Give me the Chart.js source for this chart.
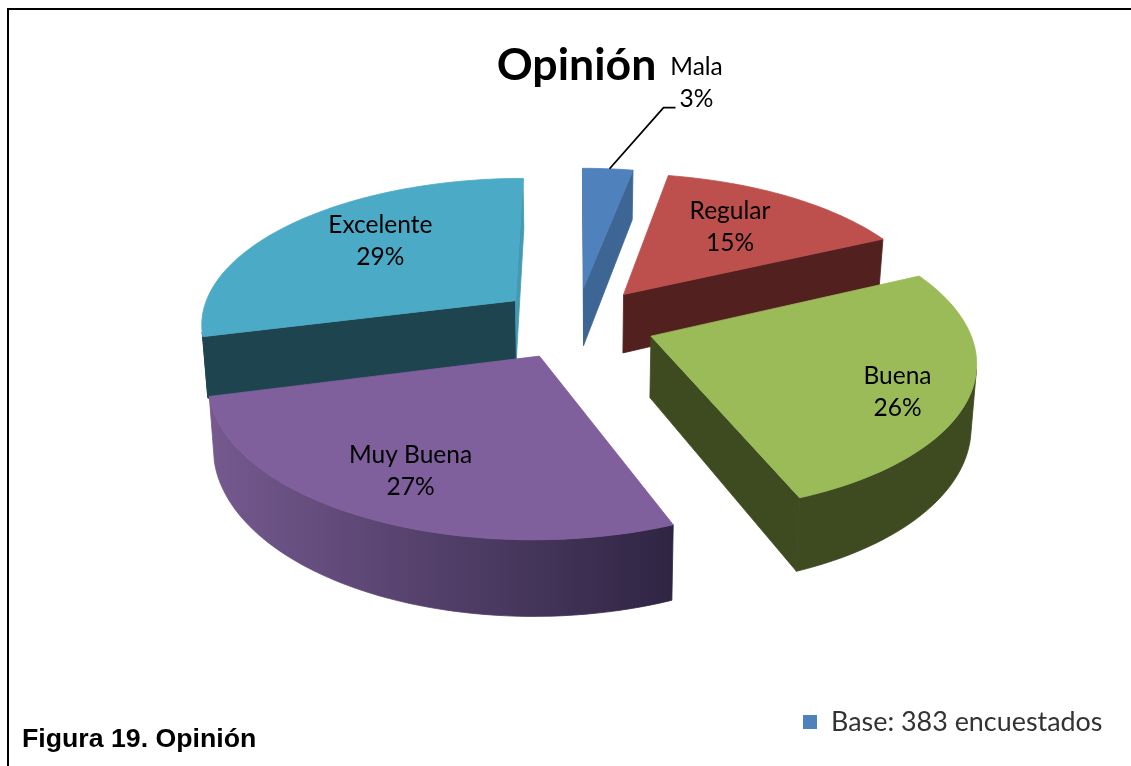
<!DOCTYPE html>
<html lang="es">
<head>
<meta charset="utf-8">
<title>Opinión</title>
<script src="https://cdn.jsdelivr.net/npm/chart.js@4/dist/chart.umd.min.js"></script>
<style>
  html, body { margin: 0; padding: 0; background: #fff; overflow: hidden; }
  #wrap { position: relative; width: 1131px; height: 766px; }
</style>
</head>
<body>
<div id="wrap"><canvas id="pie" width="1131" height="766"></canvas></div>
<script>
// Survey answers, clockwise from twelve o'clock
const categories = ['Mala', 'Regular', 'Buena', 'Muy Buena', 'Excelente'];
const percentages = [3, 15, 26, 27, 29];
const chartTitle = 'Opinión';
const figureCaption = 'Figura 19. Opinión';
const baseNote = 'Base: 383 encuestados';

const topColors = ['#4f81bd', '#bd504c', '#9bbb59', '#7f609c', '#4baac5'];
const sideColors = ['#3d6694', '#52211f', '#3e4a20', null, '#1e4450'];
const endCutColors = ['#3d6694', '#52211f', '#3e4a20', '#2f2543', '#459ab2'];
const wallGradient = ['#75598f', '#2f2543'];

// Label placement inside each slice: radial fraction and fraction along the sweep
const labelRadial = [1.96, 0.65, 0.80, 0.745, 0.66];
const labelAlong = [1.30, 0.47, 0.55, 0.505, 0.555];

const RADIUS = 316;
const OFFSET = 79;
const FLATTEN = 0.462;    // vertical squash of the pie plane
const PERSPECTIVE = 0.146;
const DEPTH = 60.5;       // extrusion height in px
const BOTTOM_SHRINK = 0.014;

// Pie-plane coordinates (unit radius, v pointing to the viewer) onto the screen; z = 0 top, z = 1 bottom
function project(cx, cy, u, v, z) {
  const w = 1 - PERSPECTIVE * v;
  return {
    x: cx + RADIUS * (u / w) * (1 - BOTTOM_SHRINK * z),
    y: cy + RADIUS * FLATTEN * v / w + z * DEPTH / Math.pow(w, 1.2)
  };
}

function sliceOutline(el) {
  const off = (el.options.offset || 0) / RADIUS;
  const mid = (el.startAngle + el.endAngle) / 2;
  const ou = off * Math.cos(mid), ov = off * Math.sin(mid);
  const pts = [{ u: ou, v: ov }];
  const steps = Math.max(4, Math.ceil((el.endAngle - el.startAngle) / 0.03));
  for (let i = 0; i <= steps; i++) {
    const a = el.startAngle + (el.endAngle - el.startAngle) * i / steps;
    pts.push({ u: ou + Math.cos(a), v: ov + Math.sin(a) });
  }
  return pts;
}

function signedArea(q) {
  let s = 0;
  for (let i = 0; i < q.length; i++) {
    const a = q[i], b = q[(i + 1) % q.length];
    s += a.x * b.y - b.x * a.y;
  }
  return s;
}

function fillPoly(ctx, poly, style) {
  ctx.beginPath();
  poly.forEach((p, i) => i ? ctx.lineTo(p.x, p.y) : ctx.moveTo(p.x, p.y));
  ctx.closePath();
  ctx.fillStyle = style;
  ctx.fill();
  ctx.strokeStyle = style;
  ctx.lineWidth = 0.8;
  ctx.stroke();
}

function drawSlice(ctx, el, index) {
  const { x: cx, y: cy } = el;
  const pts = sliceOutline(el);
  const top = pts.map(p => project(cx, cy, p.u, p.v, 0));
  const bot = pts.map(p => project(cx, cy, p.u, p.v, 1));
  const n = pts.length;
  const faces = (i, j) => signedArea([top[i], top[j], bot[j], bot[i]]) < 0;

  let wallStyle = sideColors[index];
  if (!wallStyle) {
    const xs = top.slice(1).map(p => p.x);
    const g = ctx.createLinearGradient(Math.min(...xs), 0, Math.max(...xs), 0);
    g.addColorStop(0, wallGradient[0]);
    g.addColorStop(1, wallGradient[1]);
    wallStyle = g;
  }

  // Flat cut faces on both sides of the wedge
  if (faces(0, 1)) fillPoly(ctx, [top[0], top[1], bot[1], bot[0]], wallStyle);
  if (faces(n - 1, 0)) fillPoly(ctx, [top[n - 1], top[0], bot[0], bot[n - 1]], endCutColors[index]);

  // Rounded outer wall: one polygon per run of segments turned to the viewer
  let run = null;
  const flush = () => {
    if (run) {
      const upper = [], lower = [];
      for (let k = run[0]; k <= run[1]; k++) { upper.push(top[k]); lower.unshift(bot[k]); }
      fillPoly(ctx, upper.concat(lower), wallStyle);
      run = null;
    }
  };
  for (let i = 1; i < n - 1; i++) {
    if (faces(i, i + 1)) {
      if (run) run[1] = i + 1; else run = [i, i + 1];
    } else {
      flush();
    }
  }
  flush();

  fillPoly(ctx, top, topColors[index]);
}

function labelPoint(el, index) {
  const off = (el.options.offset || 0) / RADIUS;
  const mid = (el.startAngle + el.endAngle) / 2;
  const a = el.startAngle + (el.endAngle - el.startAngle) * labelAlong[index];
  const r = labelRadial[index];
  return project(el.x, el.y,
    off * Math.cos(mid) + r * Math.cos(a),
    off * Math.sin(mid) + r * Math.sin(a), 0);
}

const pie3d = {
  id: 'pie3d',
  beforeDatasetsDraw(chart) {
    const ctx = chart.ctx;
    const meta = chart.getDatasetMeta(0);
    const offsetV = el => Math.sin((el.startAngle + el.endAngle) / 2) * (el.options.offset || 0);
    // Paint from the far slices to the near ones
    const order = meta.data.map((el, i) => i).sort((a, b) => offsetV(meta.data[a]) - offsetV(meta.data[b]));
    ctx.save();
    order.forEach(i => drawSlice(ctx, meta.data[i], i));
    ctx.restore();
    return false;
  },
  afterDraw(chart) {
    const ctx = chart.ctx;
    const meta = chart.getDatasetMeta(0);
    ctx.save();

    // Page frame
    ctx.strokeStyle = '#000';
    ctx.lineWidth = 2;
    ctx.beginPath();
    ctx.moveTo(8, 766);
    ctx.lineTo(8, 9);
    ctx.lineTo(1131, 9);
    ctx.stroke();

    // Slice labels
    ctx.fillStyle = '#000';
    ctx.font = '24.5px Lato, "Open Sans", sans-serif';
    ctx.textAlign = 'center';
    ctx.textBaseline = 'middle';
    meta.data.forEach((el, i) => {
      const p = labelPoint(el, i);
      ctx.fillText(categories[i], p.x, p.y - 16);
      ctx.fillText(percentages[i] + '%', p.x, p.y + 16);
    });

    // Leader line for the small outer slice
    const first = meta.data[0];
    const off = (first.options.offset || 0) / RADIUS;
    const mid = (first.startAngle + first.endAngle) / 2;
    const from = project(first.x, first.y,
      (off + 1) * Math.cos(mid) + 0.006, (off + 1) * Math.sin(mid), 0);
    const lab = labelPoint(first, 0);
    ctx.strokeStyle = '#000';
    ctx.lineWidth = 1.8;
    ctx.beginPath();
    ctx.moveTo(from.x, from.y);
    ctx.lineTo(lab.x - 33, lab.y + 24);
    ctx.lineTo(lab.x - 21, lab.y + 24);
    ctx.stroke();

    // Base note with its colour key, softened like the rest of that pasted strip
    ctx.filter = 'blur(0.7px)';
    ctx.fillStyle = topColors[0];
    ctx.fillRect(803, 715, 14, 14);
    ctx.fillStyle = '#333';
    ctx.font = '26.9px Lato, "Open Sans", sans-serif';
    ctx.textAlign = 'left';
    ctx.fillText(baseNote, 831, 722);
    ctx.filter = 'none';

    // Figure caption
    ctx.fillStyle = '#000';
    ctx.font = 'bold 26.7px "Liberation Sans", Arial, sans-serif';
    ctx.textBaseline = 'alphabetic';
    ctx.fillText(figureCaption, 22, 747);
    ctx.restore();
  }
};

new Chart(document.getElementById('pie'), {
  type: 'pie',
  data: {
    labels: categories,
    datasets: [{
      data: percentages,
      backgroundColor: topColors,
      borderWidth: 0,
      offset: OFFSET,
      radius: RADIUS
    }]
  },
  options: {
    responsive: false,
    animation: false,
    events: [],
    layout: { padding: { left: 22, top: 0, right: 0, bottom: 214 } },
    plugins: {
      legend: { display: false },
      tooltip: { enabled: false },
      title: {
        display: true,
        text: chartTitle,
        color: '#000',
        font: { family: 'Lato, "Open Sans", sans-serif', size: 44.6, weight: 'bold', lineHeight: 1.2 },
        padding: { top: 39, bottom: 0.5 }
      }
    }
  },
  plugins: [pie3d]
});
</script>
</body>
</html>
